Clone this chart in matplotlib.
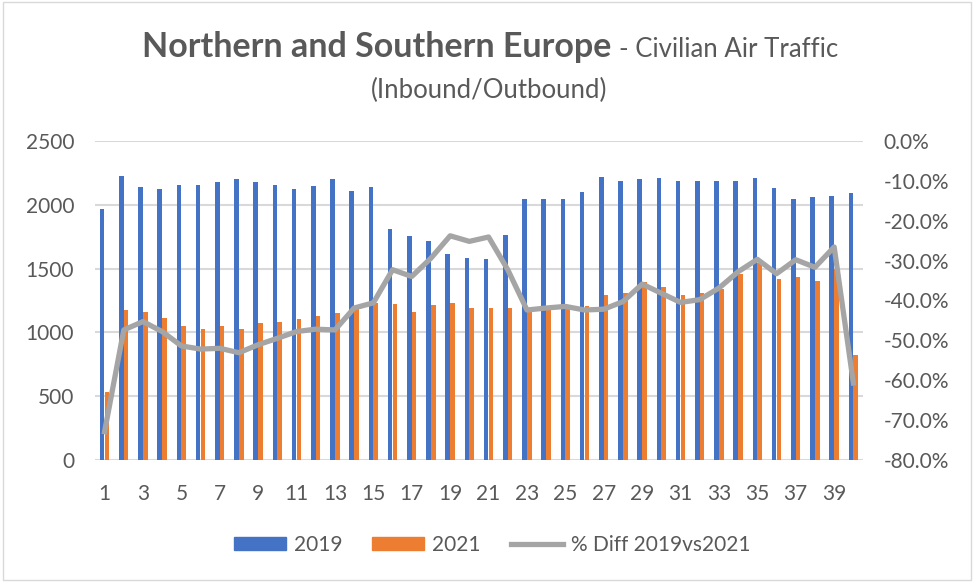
import matplotlib
matplotlib.use("Agg")
import matplotlib.pyplot as plt
from matplotlib.ticker import FuncFormatter
from matplotlib.patches import Patch, Rectangle
from matplotlib.lines import Line2D
import numpy as np

weeks = list(range(1, 41))
traffic_2019 = [1967, 2228, 2137, 2126, 2158, 2158, 2179, 2200, 2179, 2158,
                2119, 2147, 2200, 2108, 2137, 1808, 1755, 1716, 1614, 1586,
                1575, 1766, 2048, 2048, 2048, 2098, 2218, 2189, 2200, 2207,
                2189, 2189, 2189, 2189, 2207, 2129, 2048, 2058, 2069, 2090]
traffic_2021 = [535, 1173, 1162, 1110, 1050, 1029, 1050, 1029, 1071, 1081,
                1102, 1131, 1152, 1183, 1228, 1222, 1162, 1212, 1233, 1194,
                1194, 1194, 1180, 1190, 1195, 1210, 1293, 1311, 1392, 1353,
                1293, 1311, 1337, 1455, 1541, 1416, 1437, 1405, 1500, 820]
pct_diff = [-72.9, -47.4, -45.3, -47.8, -51.4, -52.2, -52.0, -53.1, -51.1, -49.5,
            -47.8, -47.2, -47.4, -41.9, -40.6, -32.3, -34.0, -29.4, -23.8, -25.2,
            -24.1, -32.3, -42.4, -41.9, -41.5, -42.4, -42.2, -40.3, -35.9, -38.2,
            -40.5, -39.8, -36.9, -32.8, -29.7, -33.3, -29.8, -31.7, -26.6, -60.7]
xtick_labels = [str(w) for w in weeks if w % 2 == 1]

BLUE = "#4472C4"
ORANGE = "#ED7D31"
GRAY = "#A5A5A5"
TXT = "#595959"
FONT = "Lato"

plt.rcParams['font.family'] = [FONT, 'DejaVu Sans']

fig = plt.figure(figsize=(9.74, 5.82), dpi=100)
fig.patches.append(Rectangle((0.003, 0.003), 0.994, 0.994, transform=fig.transFigure,
                             fill=False, edgecolor="#D9D9D9", linewidth=1.0))
ax = fig.add_axes([0.0975, 0.2096, 0.7885, 0.5484])
ax2 = ax.twinx()

x = np.array(weeks)
w = 0.24
ax.bar(x - 0.125, traffic_2019, width=w, color=BLUE, zorder=2)
ax.bar(x + 0.125, traffic_2021, width=w, color=ORANGE, zorder=2)
ax2.plot(x, np.array(pct_diff) / 100, color=GRAY, linewidth=3.8, zorder=3,
         solid_joinstyle='round')

ax.set_xlim(0.5, 40.5)
ax.set_ylim(0, 2500)
ax.set_yticks(range(0, 2501, 500))
ax2.set_ylim(-0.8, 0)
ax2.set_yticks([-i / 10 for i in range(8, -1, -1)])


def pct_fmt(v, p):
    val = round(v * 100, 1)
    if val == 0:
        val = 0.0
    return f"{val:.1f}%"


ax2.yaxis.set_major_formatter(FuncFormatter(pct_fmt))
ax.set_xticks([w_ for w_ in weeks if w_ % 2 == 1])
ax.set_xticklabels(xtick_labels)

ax.yaxis.grid(True, color="#D9D9D9", linewidth=1.5, zorder=0)
ax.set_axisbelow(True)
for a in (ax, ax2):
    for s in a.spines.values():
        s.set_visible(False)
    a.tick_params(length=0, labelsize=15, labelcolor=TXT)
ax.tick_params(axis='y', pad=15)
ax.tick_params(axis='x', pad=17)
ax2.tick_params(axis='y', pad=15)
ax.set_zorder(1)
ax2.set_zorder(2)
ax2.patch.set_visible(False)

# Title
fig.text(611 / 974, 1 - 57 / 582, "Northern and Southern Europe", ha='right', va='baseline',
         fontsize=24.5, fontweight='bold', color=TXT)
fig.text(619 / 974, 1 - 57 / 582, "- Civilian Air Traffic", ha='left', va='baseline',
         fontsize=18.5, color=TXT)
fig.text(489 / 974, 1 - 98 / 582, "(Inbound/Outbound)", ha='center', va='baseline',
         fontsize=18.5, color=TXT)

handles = [Patch(color=BLUE), Patch(color=ORANGE),
           Line2D([0], [0], color=GRAY, linewidth=3.8)]
fig.legend(handles, ["2019", "2021", "% Diff 2019vs2021"], loc='center',
           bbox_to_anchor=(492 / 974, 1 - 545 / 582), ncol=3, frameon=False,
           fontsize=15, labelcolor=TXT, handlelength=2.5, handleheight=0.62,
           columnspacing=1.44, handletextpad=0.38)

fig.savefig("out.png", dpi=100)
